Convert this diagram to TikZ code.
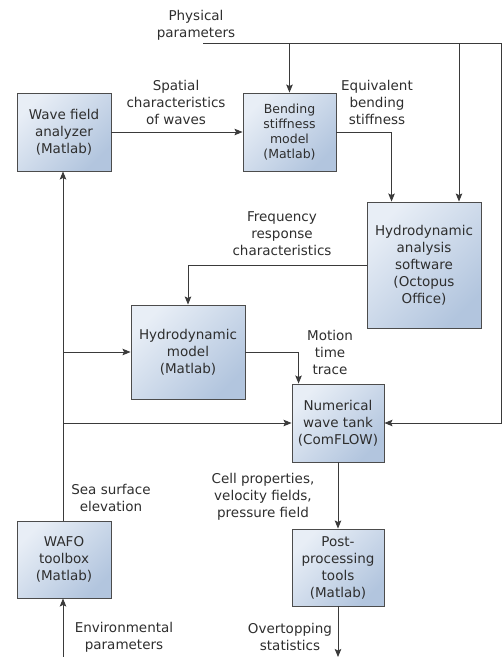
\documentclass[tikz,border=0pt]{standalone}
\usepackage{fontspec}
\setmainfont{DejaVu Sans}
\usetikzlibrary{arrows.meta,shadows,calc}
\definecolor{txt}{HTML}{2E2E2E}
\definecolor{ln}{HTML}{3A3A3A}
\definecolor{boxA}{HTML}{E8EEF6}
\definecolor{boxB}{HTML}{B2C5DE}
\definecolor{bord}{HTML}{4C4C4C}
\tikzset{
  blk/.style={draw=bord, line width=0.9pt, top color=boxA, bottom color=boxB, shading angle=45,
    align=center, text=txt, inner sep=2pt,
    font=\fontsize{13.5}{17}\selectfont,
    drop shadow={opacity=0.25, shadow xshift=1.2pt, shadow yshift=-1.2pt}},
  blksmall/.style={blk, font=\fontsize{12.5}{15}\selectfont},
  lbl/.style={align=center, text=txt, inner sep=0pt, font=\fontsize{13.5}{17}\selectfont},
  conn/.style={draw=ln, line width=0.9pt},
  arr/.style={conn, -{Stealth[length=8pt,width=6.5pt,inset=1.5pt]}}
}
\begin{document}
\begin{tikzpicture}[x=1pt,y=-1pt]
\useasboundingbox (0,0) rectangle (502,657);
% boxes
\node[blk, minimum width=94pt, minimum height=78pt] (wfa) at (64,132) {Wave field\\analyzer\\(Matlab)};
\node[blksmall, minimum width=93pt, minimum height=78pt] (bsm) at (289.5,132) {Bending\\stiffness\\model\\(Matlab)};
\node[blk, minimum width=114pt, minimum height=126pt] (has) at (424,265) {Hydrodynamic\\analysis\\software\\(Octopus\\Office)};
\node[blk, minimum width=114pt, minimum height=94pt] (hm) at (188,352) {Hydrodynamic\\model\\(Matlab)};
\node[blk, minimum width=92pt, minimum height=78pt] (nwt) at (338,423) {Numerical\\wave tank\\(ComFLOW)};
\node[blk, minimum width=92pt, minimum height=77pt] (ppt) at (338,567.5) {Post-\\processing\\tools\\(Matlab)};
\node[blk, minimum width=94pt, minimum height=77pt] (wafo) at (64,559.5) {WAFO\\toolbox\\(Matlab)};
% labels
\node[lbl] (lpp) at (196,25) {Physical\\parameters};
\node[lbl] (lsp) at (176,102) {Spatial\\characteristics\\of waves};
\node[lbl] (leq) at (377,102) {Equivalent\\bending\\stiffness};
\node[lbl] (lfr) at (282,234) {Frequency\\response\\characteristics};
\node[lbl] (lmt) at (330,352) {Motion\\time\\trace};
\node[lbl] (lse) at (111,498) {Sea surface\\elevation};
\node[lbl] (lcp) at (263,497) {Cell properties,\\velocity fields,\\pressure field};
\node[lbl] (lot) at (290,637) {Overtopping\\statistics};
\node[lbl] (lep) at (124,637) {Environmental\\parameters};
% coordinates
\coordinate (pp) at (203,43);
\coordinate (ppR) at (501,43);
\coordinate (hasin) at (459,43);
\coordinate (hasin2) at ($(has.north west)+(25,0)$);
\coordinate (nwtin) at ($(nwt.north west)+(7,0)$);
\coordinate (vx) at (63,352);
\coordinate (vy) at (63,423);
\coordinate (outb) at (338,657);
\coordinate (inb) at (63,657);
% connectors
\draw[arr] (pp) -- (ppR) |- (nwt.east);
\draw[arr] (bsm.north |- pp) -- (bsm.north);
\draw[arr] (hasin) -- (hasin |- has.north);
\draw[arr] (wfa.east) -- (bsm.west);
\draw[arr] (bsm.east) -| (hasin2);
\draw[arr] (has.west) -| (hm.north);
\draw[arr] (hm.east) -| (nwtin);
\draw[arr] (63,0 |- wafo.north) -- (63,0 |- wfa.south);
\draw[arr] (vx) -- (vx -| hm.west);
\draw[arr] (vy) -- (vy -| nwt.west);
\draw[arr] (nwt.south) -- (ppt.north);
\draw[arr] (ppt.south) -- (outb);
\draw[arr] (inb) -- (inb |- wafo.south);
\end{tikzpicture}
\end{document}
